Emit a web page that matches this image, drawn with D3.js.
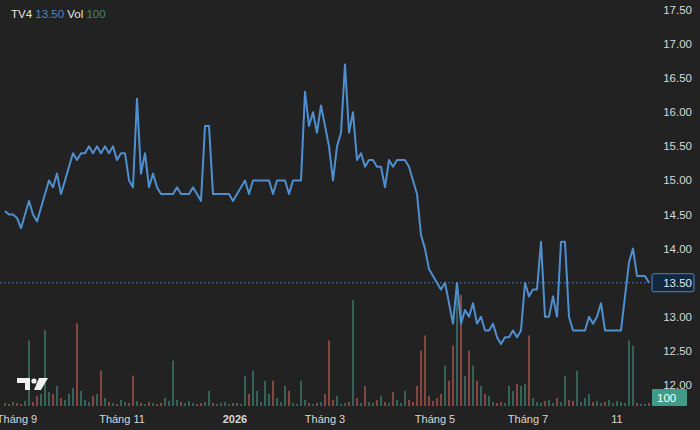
<!DOCTYPE html>
<html><head><meta charset="utf-8">
<script src="https://cdn.jsdelivr.net/npm/d3@7"></script>
<style>body{margin:0;background:#222;}svg{display:block;font-family:"Helvetica Neue",Arial,"Liberation Sans",sans-serif;}</style>
</head><body><svg id="chart" width="700" height="430"></svg>
<script>
const prices = [14.55,14.5,14.5,14.45,14.3,14.5,14.7,14.5,14.4,14.6,
  14.8,15.0,14.9,15.1,14.8,15.0,15.2,15.4,15.3,15.4,
  15.4,15.5,15.4,15.5,15.4,15.5,15.4,15.5,15.3,15.4,
  15.4,15.0,14.9,16.2,15.1,15.4,14.9,15.1,14.9,14.8,
  14.8,14.8,14.8,14.9,14.8,14.8,14.8,14.9,14.8,14.7,
  15.8,15.8,14.8,14.8,14.8,14.8,14.8,14.7,14.8,14.9,
  15.0,14.8,15.0,15.0,15.0,15.0,15.0,14.8,15.0,15.0,
  15.0,14.8,15.0,15.0,15.0,16.3,15.8,16.0,15.7,16.1,
  15.8,15.5,15.0,15.5,15.7,16.7,15.7,16.0,15.3,15.4,
  15.2,15.3,15.3,15.2,15.2,14.9,15.3,15.2,15.3,15.3,
  15.3,15.2,15.0,14.8,14.2,14.0,13.7,13.6,13.5,13.4,
  13.5,13.2,12.9,13.5,12.9,13.1,13.0,13.2,12.9,13.0,
  12.8,12.8,12.9,12.7,12.6,12.7,12.7,12.8,12.7,12.8,
  13.5,13.3,13.4,13.4,14.1,13.0,13.0,13.3,13.0,14.1,
  14.1,13.0,12.8,12.8,12.8,12.8,13.0,12.9,13.0,13.2,
  12.8,12.8,12.8,12.8,12.8,13.3,13.8,14.0,13.6,13.6,
  13.6,13.5];
const volumes = [3,2,4,3,2,5,65,4,10,12,
  75,14,12,20,8,6,12,18,82,15,
  6,4,10,12,35,8,4,3,2,6,
  4,3,30,5,3,2,4,3,2,3,
  8,5,45,6,4,3,5,3,2,3,
  4,15,3,2,3,4,2,3,3,2,
  30,12,35,15,4,25,12,25,8,4,
  20,15,3,2,25,6,3,2,3,4,
  12,65,6,10,2,3,4,105,8,3,
  20,4,3,6,10,4,3,14,6,3,
  15,6,4,20,55,70,10,5,8,12,
  40,25,60,120,110,30,55,40,25,20,
  12,10,4,3,4,3,20,15,22,20,
  22,70,8,4,3,5,6,3,8,4,
  30,6,5,35,4,8,12,4,5,3,
  4,6,3,5,4,3,65,60,3,2,
  2,3];
const tickIdx = [3, 29.25, 57.5, 80, 107.5, 130.75, 153];
const tickLabels = ["Tháng 9", "Tháng 11", "2026", "Tháng 3", "Tháng 5", "Tháng 7", "11"];
const priceTicks = [17.5,17,16.5,16,15.5,15,14.5,14,13.5,13,12.5,12];
const lastPrice = 13.5, lastVol = 100;

const svg = d3.select("#chart");
const x = d3.scaleLinear().domain([0, prices.length - 1]).range([5, 649]);
const y = d3.scaleLinear().domain([12, 17.5]).range([385, 10]);
const vh = d3.scaleLinear().domain([0, 120]).range([0, 121]);
const base = 406;

svg.append("rect").attr("width", 700).attr("height", 430).attr("fill", "#222");

// volume bars
svg.append("g").selectAll("rect").data(volumes).join("rect")
  .attr("x", (d, i) => x(i) - 0.75).attr("width", 1.5)
  .attr("y", d => base - vh(d)).attr("height", d => vh(d))
  .attr("fill", (d, i) => i > 0 && prices[i] < prices[i - 1] ? "#c25a55" : "#3f8a78")
  .attr("opacity", 0.85);

// last price dotted line
svg.append("line").attr("x1", 0).attr("x2", 652).attr("y1", y(lastPrice)).attr("y2", y(lastPrice))
  .attr("stroke", "#4a86c5").attr("stroke-width", 1).attr("stroke-dasharray", "1.5,2.5");

// price line
svg.append("path").datum(prices)
  .attr("d", d3.line().x((d, i) => x(i)).y(d => y(d)))
  .attr("fill", "none").attr("stroke", "#4f8fd0").attr("stroke-width", 2).attr("stroke-linejoin", "round");

// right axis
svg.append("g").selectAll("text").data(priceTicks).join("text")
  .attr("x", 692).attr("y", d => y(d) + 4).attr("text-anchor", "end")
  .attr("fill", "#d8d8d8").attr("font-size", 11.5).text(d => d.toFixed(2));

svg.append("rect").attr("x", 652).attr("y", y(lastPrice) - 9).attr("width", 42).attr("height", 18).attr("rx", 2)
  .attr("fill", "#14263b").attr("stroke", "#4a86c5");
svg.append("text").attr("x", 692).attr("y", y(lastPrice) + 4).attr("text-anchor", "end")
  .attr("fill", "#e0e8f0").attr("font-size", 11.5).text(lastPrice.toFixed(2));
svg.append("rect").attr("x", 652).attr("y", 389).attr("width", 35).attr("height", 17).attr("rx", 1)
  .attr("fill", "#3e9c88");
svg.append("text").attr("x", 657).attr("y", 402).attr("fill", "#fff").attr("font-size", 11.5).text(lastVol);

// bottom axis
svg.append("g").selectAll("text").data(tickIdx).join("text")
  .attr("x", d => x(d)).attr("y", 423).attr("text-anchor", "middle")
  .attr("fill", "#d8d8d8").attr("font-size", 11)
  .attr("font-weight", (d, i) => tickLabels[i] === "2026" ? "bold" : "normal")
  .text((d, i) => tickLabels[i]);

// legend
const lg = svg.append("text").attr("x", 11).attr("y", 18).attr("font-size", 11.5);
lg.append("tspan").attr("fill", "#e6e6e6").text("TV4 ");
lg.append("tspan").attr("fill", "#4f86c0").text(lastPrice.toFixed(2));
lg.append("tspan").attr("fill", "#e6e6e6").text(" Vol ");
lg.append("tspan").attr("fill", "#3f8a6e").text(lastVol);

// logo
const logo = svg.append("g").attr("fill", "#f2f2f2");
logo.append("path").attr("d", "M17 378h13v12h-5v-7h-8z");
logo.append("circle").attr("cx", 34).attr("cy", 381).attr("r", 2.6);
logo.append("path").attr("d", "M39 378h9l-7 12h-7z");
</script></body></html>
